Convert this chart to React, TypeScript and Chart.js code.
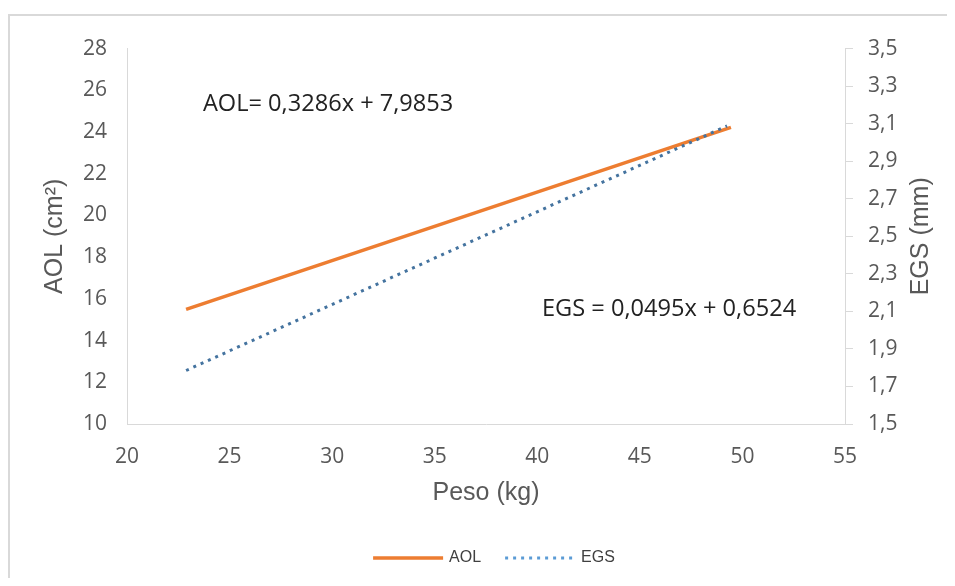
import React, { useEffect, useRef } from "react";
import { Chart, registerables } from "chart.js";

Chart.register(...registerables);

// ---- data ----
const pesoAOL = [22.88, 49.44];
const aolValues = [15.5, 24.22];
const pesoEGS = [22.88, 49.25];
const egsValues = [1.785, 3.088];

const seriesNames = ["AOL", "EGS"];
const xRange = { min: 20, max: 55, step: 5 };
const yRange = { min: 10, max: 28, step: 2 };
const y1Range = { min: 1.5, max: 3.5, step: 0.2 };

const xTitle = "Peso (kg)";
const yTitle = "AOL (cm²)";
const y1Title = "EGS (mm)";

const aolEquation = "AOL= 0,3286x + 7,9853";
const egsEquation = "EGS = 0,0495x + 0,6524";
// anchor (data coords) of the equation labels
const aolEqAnchor = { x: 23.7, y: 25.35 };
const egsEqAnchor = { x: 40.23, y1: 2.109 };

const TICK_FONT = { family: "'Open Sans'", size: 21 };
const TITLE_FONT_FAMILY = "'Liberation Sans', Arial, sans-serif";
const TICK_COLOR = "#595959";
const AXIS_COLOR = "#d9d9d9";

const overlayPlugin = {
  id: "overlay",
  afterDraw(chart: any) {
    const ctx = chart.ctx;
    const { x, y, y1 } = chart.scales;
    ctx.save();
    // equations
    ctx.font = "23.6px 'Open Sans'";
    ctx.fillStyle = "#222222";
    ctx.textAlign = "left";
    ctx.textBaseline = "middle";
    ctx.fillText(aolEquation, x.getPixelForValue(aolEqAnchor.x), y.getPixelForValue(aolEqAnchor.y));
    ctx.fillText(egsEquation, x.getPixelForValue(egsEqAnchor.x), y1.getPixelForValue(egsEqAnchor.y1));

    // right axis title, reading bottom-to-top
    ctx.save();
    ctx.translate(y1.right - 34, (y1.top + y1.bottom) / 2);
    ctx.rotate(-Math.PI / 2);
    ctx.font = `25px ${TITLE_FONT_FAMILY}`;
    ctx.fillStyle = TICK_COLOR;
    ctx.textAlign = "center";
    ctx.textBaseline = "middle";
    ctx.fillText(y1Title, 0, 0);
    ctx.restore();

    // legend
    ctx.font = `16px ${TITLE_FONT_FAMILY}`;
    const lineW = 70;
    const gapText = 6;
    const gapItem = 24;
    const dsList = chart.data.datasets;
    const widths = dsList.map((d: any) => lineW + gapText + ctx.measureText(d.label).width);
    const total = widths.reduce((a: number, b: number) => a + b, 0) + gapItem * (dsList.length - 1);
    const cx = (chart.chartArea.left + chart.chartArea.right) / 2 + 8;
    const ly = 542;
    let lx = cx - total / 2;
    dsList.forEach((d: any, i: number) => {
      ctx.save();
      ctx.strokeStyle = d.legendColor || d.borderColor;
      ctx.lineWidth = d.borderWidth;
      ctx.setLineDash(d.borderDash || []);
      ctx.lineCap = "butt";
      ctx.beginPath();
      ctx.moveTo(lx, ly);
      ctx.lineTo(lx + lineW, ly);
      ctx.stroke();
      ctx.restore();
      ctx.fillStyle = "#404040";
      ctx.textAlign = "left";
      ctx.textBaseline = "middle";
      ctx.fillText(d.label, lx + lineW + gapText, ly);
      lx += widths[i] + gapItem;
    });
    ctx.restore();
  },
};

function fmtComma(v: number, digits: number) {
  return Number(v).toFixed(digits).replace(".", ",");
}

export default function App() {
  const canvasRef = useRef<HTMLCanvasElement | null>(null);

  useEffect(() => {
    if (!canvasRef.current) return;
    const chart = new Chart(canvasRef.current, {
      type: "line",
      data: {
        datasets: [
          {
            label: seriesNames[0],
            data: pesoAOL.map((px, i) => ({ x: px, y: aolValues[i] })),
            borderColor: "#ed7d31",
            backgroundColor: "#ed7d31",
            borderWidth: 3.5,
            pointRadius: 0,
            yAxisID: "y",
            order: 1,
          } as any,
          {
            label: seriesNames[1],
            data: pesoEGS.map((px, i) => ({ x: px, y: egsValues[i] })),
            borderColor: "#44739f",
            legendColor: "#5b9bd5",
            backgroundColor: "#44739f",
            borderWidth: 3,
            borderDash: [3, 5],
            pointRadius: 0,
            yAxisID: "y1",
            order: 0,
          } as any,
        ],
      },
      options: {
        animation: false,
        responsive: true,
        maintainAspectRatio: false,
        layout: { padding: { top: 27, left: 0, right: 0, bottom: 0 } },
        plugins: {
          legend: { display: false },
          tooltip: { enabled: false },
        },
        scales: {
          x: {
            type: "linear",
            min: xRange.min,
            max: xRange.max,
            ticks: {
              stepSize: xRange.step,
              font: TICK_FONT,
              color: TICK_COLOR,
              padding: 20,
              maxRotation: 0,
            },
            grid: { display: false, drawTicks: false },
            border: { display: true, color: AXIS_COLOR, width: 1 },
            title: {
              display: true,
              text: xTitle,
              font: { family: TITLE_FONT_FAMILY, size: 25 },
              color: TICK_COLOR,
              padding: { top: 0, bottom: 70 },
            },
            afterFit(scale: any) {
              scale.height = 154;
            },
          },
          y: {
            type: "linear",
            position: "left",
            min: yRange.min,
            max: yRange.max,
            ticks: {
              stepSize: yRange.step,
              font: TICK_FONT,
              color: TICK_COLOR,
              padding: 20,
            },
            grid: { display: false, drawTicks: false },
            border: { display: true, color: AXIS_COLOR, width: 1 },
            title: {
              display: true,
              text: yTitle,
              font: { family: TITLE_FONT_FAMILY, size: 25 },
              color: TICK_COLOR,
              padding: { top: 30, bottom: 0 },
            },
            afterFit(scale: any) {
              scale.width = 117;
            },
          },
          y1: {
            type: "linear",
            position: "right",
            min: y1Range.min,
            max: y1Range.max,
            ticks: {
              stepSize: y1Range.step,
              font: TICK_FONT,
              color: TICK_COLOR,
              padding: 15,
              callback: (v: any) => fmtComma(v, 1),
            },
            grid: {
              display: true,
              drawOnChartArea: false,
              drawTicks: true,
              tickLength: 8,
              color: AXIS_COLOR,
              lineWidth: 1,
            },
            border: { display: true, color: AXIS_COLOR, width: 1 },
            afterFit(scale: any) {
              scale.width = 110;
            },
          },
        },
      },
      plugins: [overlayPlugin],
    });
    return () => chart.destroy();
  }, []);

  return (
    <div style={{ paddingTop: 6 }}>
      <div
        style={{
          borderTop: "2px solid #d9d9d9",
          borderLeft: "2px solid #d9d9d9",
          height: 562,
          marginRight: -8,
          background: "#ffffff",
        }}
      >
        <div style={{ position: "relative", width: "100%", height: 562 }}>
          <canvas ref={canvasRef} />
        </div>
      </div>
    </div>
  );
}
